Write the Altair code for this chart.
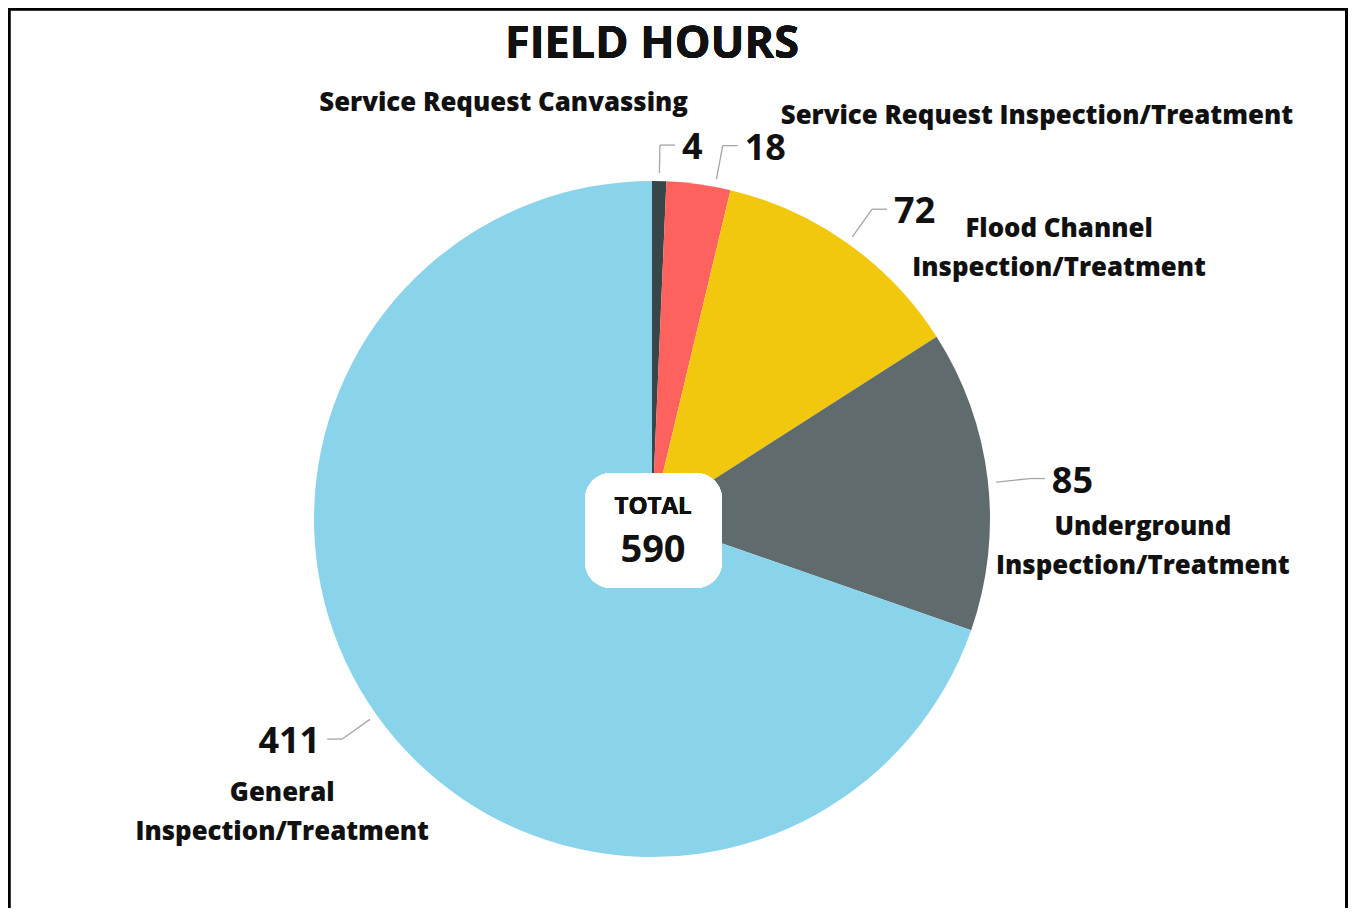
import altair as alt
import pandas as pd

# ---------------- data ----------------
categories = [
    "Service Request Canvassing",
    "Service Request Inspection/Treatment",
    "Flood Channel Inspection/Treatment",
    "Underground Inspection/Treatment",
    "General Inspection/Treatment",
]
hours = [4, 18, 72, 85, 411]
label_text = [
    "Service Request Canvassing",
    "Service Request Inspection/Treatment",
    "Flood Channel\nInspection/Treatment",
    "Underground\nInspection/Treatment",
    "General\nInspection/Treatment",
]
colors = ["#374649", "#FD625E", "#F2C80F", "#5F6B6D", "#8AD4EB"]

# ---------------- label layout (placement only) ----------------
angle_nudge_deg = [0, 2.8, 0, 0.6, 0]
elbow_adj = [-6, 0, 0, 0, 0]
cat_dx = [6, 36, 165, 91, -38]
cat_dy = [-42, -30, 20, 48, 54]
cat_align = ["right", "left", "center", "center", "center"]

W, H = 1340, 900
CX, CY, R = 644, 511, 338
R1, R2, HLEN, GAP = 346, 380, 15, 7
FONT = "Open Sans"

df = pd.DataFrame({
    "category": categories,
    "hours": hours,
    "label": label_text,
    "order": list(range(len(categories))),
    "nudge": angle_nudge_deg,
    "eadj": elbow_adj,
    "cdx": cat_dx,
    "cdy": cat_dy,
    "calign": cat_align,
})

base = alt.Chart(df)

geo = (
    base.transform_joinaggregate(total="sum(hours)")
    .transform_window(cum="sum(hours)", sort=[alt.SortField("order")], frame=[None, 0])
    .transform_calculate(
        mid="(datum.cum - datum.hours/2)/datum.total*2*PI + datum.nudge*PI/180",
        side="sin(datum.mid) >= 0 ? 1 : -1",
        x1=f"{CX} + {R1}*sin(datum.mid)",
        y1=f"{CY} - {R1}*cos(datum.mid)",
        x2=f"{CX} + ({R2} + datum.eadj)*sin(datum.mid)",
        y2=f"{CY} - ({R2} + datum.eadj)*cos(datum.mid)",
        x3=f"datum.x2 + datum.side*{HLEN}",
        nx=f"datum.x3 + datum.side*{GAP}",
        cx=f"datum.nx + datum.cdx",
        cy=f"datum.y2 + datum.cdy",
    )
)

def X(f):
    return alt.X(f, type="quantitative", scale=None, axis=None)

def Y(f):
    return alt.Y(f, type="quantitative", scale=None, axis=None)

arcs = base.mark_arc(outerRadius=R).encode(
    theta=alt.Theta("hours:Q", stack=True),
    color=alt.Color("category:N", scale=alt.Scale(domain=categories, range=colors), legend=None),
    order=alt.Order("order:Q"),
    x=alt.value(CX),
    y=alt.value(CY),
)

radial = geo.mark_rule(color="#a6a6a6", strokeWidth=1.3).encode(
    x=X("x1"), y=Y("y1"), x2=alt.X2("x2"), y2=alt.Y2("y2")
)
horiz = geo.mark_rule(color="#a6a6a6", strokeWidth=1.3).encode(
    x=X("x2"), y=Y("y2"), x2=alt.X2("x3"), y2=alt.Y2("y2")
)

num_layers = []
for s, al in [(1, "left"), (-1, "right")]:
    num_layers.append(
        geo.transform_filter(f"datum.side == {s}")
        .mark_text(font=FONT, fontSize=36, fontWeight="bold", align=al, baseline="middle",
                   dy=3, color="#111111")
        .encode(x=X("nx"), y=Y("y2"), text=alt.Text("hours:Q"))
    )

cat_layers = []
for al in ["left", "right", "center"]:
    cat_layers.append(
        geo.transform_filter(f"datum.calign == '{al}'")
        .mark_text(font=FONT, fontSize=25.8, fontWeight=800, align=al, baseline="middle",
                   lineBreak="\n", lineHeight=39, color="#111111")
        .encode(x=X("cx"), y=Y("cy"), text="label:N")
    )

box = base.mark_rect(color="white", cornerRadius=26).encode(
    x=alt.value(577), x2=alt.value(714), y=alt.value(465), y2=alt.value(580)
)
total_word = base.mark_text(font=FONT, fontSize=24, fontWeight="bold", color="#111111").encode(
    x=alt.value(645), y=alt.value(499), text=alt.value("TOTAL")
)
total_val = (
    base.transform_aggregate(total="sum(hours)")
    .mark_text(font=FONT, fontSize=38, fontWeight="bold", color="#111111")
    .encode(x=alt.value(645), y=alt.value(543), text="total:Q")
)

title = base.mark_text(font=FONT, fontSize=45, fontWeight="bold", color="#111111").encode(
    x=alt.value(644), y=alt.value(36), text=alt.value("FIELD HOURS")
)

border_l = base.mark_rule(color="black", strokeWidth=2.5).encode(
    x=alt.value(1), y=alt.value(0), y2=alt.value(H)
)
border_t = base.mark_rule(color="black", strokeWidth=2.5).encode(
    x=alt.value(0), x2=alt.value(W), y=alt.value(1)
)
border_r = base.mark_rule(color="black", strokeWidth=2.5).encode(
    x=alt.value(W - 1.5), y=alt.value(0), y2=alt.value(H)
)

chart = alt.layer(
    arcs, radial, horiz, *num_layers, *cat_layers, box, total_word, total_val, title,
    border_l, border_t, border_r,
).properties(
    width=W, height=H,
    padding={"left": 0, "top": 0, "right": 0, "bottom": 0},
    autosize=alt.AutoSizeParams(type="none"),
).configure_view(stroke=None)

chart.save("out.html", embed_options={"renderer": "svg", "actions": False})
